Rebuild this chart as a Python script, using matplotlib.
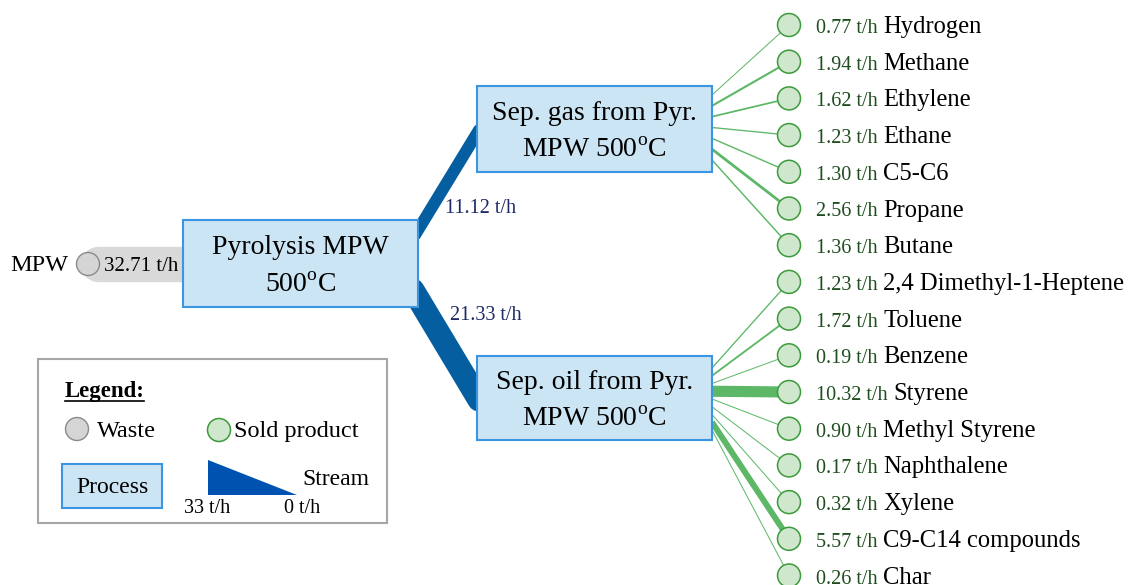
import matplotlib
matplotlib.use("Agg")
import matplotlib.pyplot as plt
from matplotlib.patches import Circle, Rectangle, Polygon
import numpy as np

plt.rcParams['font.family'] = ['Liberation Serif', 'DejaVu Serif']
plt.rcParams['mathtext.fontset'] = 'custom'
plt.rcParams['mathtext.rm'] = 'Liberation Serif'

# ---------------- data ----------------
feed_name = "MPW"
feed_flow = 32.71
gas_flow = 11.12
oil_flow = 21.33
gas_products = ['Hydrogen', 'Methane', 'Ethylene', 'Ethane', 'C5-C6', 'Propane', 'Butane']
gas_flows = [0.77, 1.94, 1.62, 1.23, 1.30, 2.56, 1.36]
oil_products = ['2,4 Dimethyl-1-Heptene', 'Toluene', 'Benzene', 'Styrene', 'Methyl Styrene',
                'Naphthalene', 'Xylene', 'C9-C14 compounds', 'Char']
oil_flows = [1.23, 1.72, 0.19, 10.32, 0.90, 0.17, 0.32, 5.57, 0.26]
legend_max = 33
legend_min = 0

# ---------------- style ----------------
W, H = 1129, 585
PX = 72 / 100.0          # points per pixel
SCALE = 1.08             # px per t/h
BOX_FACE = '#cce5f4'
BOX_EDGE = '#3a96e0'
BLUE = '#045ea0'
GREEN_LINE = '#5cb866'
GREEN_FACE = '#cfe7cc'
GREEN_EDGE = '#3b9b3b'
GREY_FACE = '#d5d5d5'
GREY_EDGE = '#8a8a8a'
VAL_GREEN = '#1f4d1f'
NAVY = '#1e2a66'

fig = plt.figure(figsize=(W / 100, H / 100), dpi=100)
ax = fig.add_axes([0, 0, 1, 1])
ax.set_xlim(0, W)
ax.set_ylim(H, 0)
ax.axis('off')


def box(x0, y0, x1, y1, lines, fs=20):
    ax.add_patch(Rectangle((x0, y0), x1 - x0, y1 - y0, facecolor=BOX_FACE,
                           edgecolor=BOX_EDGE, lw=1.5 * PX * 1.4, zorder=5))
    cy = (y0 + y1) / 2
    cx = (x0 + x1) / 2
    offs = [-9, 28] if len(lines) == 2 else [7]
    for t, o in zip(lines, offs):
        ax.text(cx, cy + o, t, ha='center', va='baseline', fontsize=fs, zorder=6)


def stream(x0, y0, x1, y1, flow, color, cap='round', z=2, minpx=1.0):
    lw = max(minpx, flow * SCALE) * PX
    ax.plot([x0, x1], [y0, y1], color=color, lw=lw, solid_capstyle=cap, zorder=z)


# feed stream (grey)
stream(98, 264, 190, 264, feed_flow, '#d9d9d9', cap='round', z=1)
ax.add_patch(Circle((88, 264), 11.5, facecolor=GREY_FACE, edgecolor=GREY_EDGE, lw=1.0, zorder=4))
ax.text(10, 271, feed_name, fontsize=17.5, va='baseline', ha='left', zorder=6)
ax.text(104, 271, f"{feed_flow:.2f} t/h", fontsize=15, va='baseline', ha='left', zorder=6)

# process boxes
box(183, 220, 418, 307, ["Pyrolysis MPW", "500$^{\\mathrm{o}}$C"])
gas_box = (477, 86, 712, 172)
oil_box = (477, 356, 712, 440)
box(*gas_box, ["Sep. gas from Pyr.", "MPW 500$^{\\mathrm{o}}$C"])
box(*oil_box, ["Sep. oil from Pyr.", "MPW 500$^{\\mathrm{o}}$C"])

# blue streams
stream(415, 235, 479, 130, gas_flow, BLUE, z=3)
stream(413, 290, 479, 400, oil_flow, BLUE, z=3)
ax.text(445, 213, f"{gas_flow:.2f} t/h", fontsize=14.5, color=NAVY, va='baseline')
ax.text(450, 320, f"{oil_flow:.2f} t/h", fontsize=14.5, color=NAVY, va='baseline')

# products
names = gas_products + oil_products
flows = gas_flows + oil_flows
n = len(names)
cys = 25 + 36.7 * np.arange(n)
starts = list(np.linspace(95, 160, len(gas_products))) + list(np.linspace(368, 430, len(oil_products)))
CX = 789
for name, fl, cy, sy in zip(names, flows, cys, starts):
    stream(712, sy, CX, cy, fl, GREEN_LINE, cap='butt', z=3)
    ax.add_patch(Circle((CX, cy), 11.5, facecolor=GREEN_FACE, edgecolor=GREEN_EDGE, lw=1.1, zorder=4))
    vt = ax.text(816, cy + 8, f"{fl:.2f} t/h", fontsize=14.5, color=VAL_GREEN, va='baseline', zorder=6)
    ax.annotate(name, xy=(1, cy + 8), xycoords=(vt, 'data'), xytext=(4, 0),
                textcoords='offset points', fontsize=17.7, va='baseline', ha='left', zorder=6)

# legend
ax.add_patch(Rectangle((38, 359), 349, 164, facecolor='white', edgecolor='#a6a6a6', lw=1.5, zorder=1))
ax.text(65, 397, "Legend:", fontsize=16.5, fontweight='bold', va='baseline', zorder=6)
ax.plot([65, 144], [400.5, 400.5], color='black', lw=1.2, zorder=6)
ax.add_patch(Circle((77, 429), 11.5, facecolor=GREY_FACE, edgecolor=GREY_EDGE, lw=1.0, zorder=4))
ax.text(97, 437, "Waste", fontsize=17.5, va='baseline', zorder=6)
ax.add_patch(Circle((219, 430), 11.5, facecolor=GREEN_FACE, edgecolor=GREEN_EDGE, lw=1.1, zorder=4))
ax.text(234, 437, "Sold product", fontsize=17.5, va='baseline', zorder=6)
ax.add_patch(Rectangle((62, 464), 100, 44, facecolor=BOX_FACE, edgecolor=BOX_EDGE, lw=1.5, zorder=5))
ax.text(112, 493, "Process", fontsize=17, ha='center', va='baseline', zorder=6)
ax.add_patch(Polygon([(208, 460), (208, 495), (297, 495)], closed=True, facecolor='#0052b0',
                     edgecolor='none', zorder=4))
ax.text(302, 485, "Stream", fontsize=17, va='baseline', zorder=6)
ax.text(184, 513, f"{legend_max} t/h", fontsize=14.5, va='baseline', zorder=6)
ax.text(284, 513, f"{legend_min} t/h", fontsize=14.5, va='baseline', zorder=6)

fig.savefig("out.png", dpi=100)
